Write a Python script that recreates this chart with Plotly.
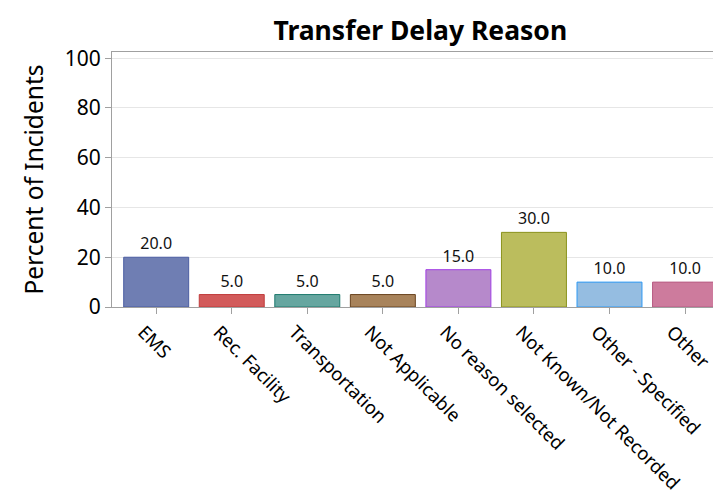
import plotly.graph_objects as go

categories = ["EMS", "Rec. Facility", "Transportation", "Not Applicable",
              "No reason selected", "Not Known/Not Recorded", "Other - Specified", "Other"]
percents = [20.0, 5.0, 5.0, 5.0, 15.0, 30.0, 10.0, 10.0]
fill_colors = ["#6F7EB3", "#D25B5B", "#66A6A0", "#A8835B", "#B689CB", "#BBBD5D", "#95BDE1", "#CD7B9D"]
line_colors = ["#4B5DA2", "#C03C3C", "#1E7A6E", "#6A4520", "#A13DE4", "#8A931D", "#2F9AF4", "#B75C84"]
y_ticks = [0, 20, 40, 60, 80, 100]

FONT = "Noto Sans"

fig = go.Figure(go.Bar(
    x=categories,
    y=percents,
    marker=dict(color=fill_colors, line=dict(color=line_colors, width=1)),
    text=[f"{v:.1f}" for v in percents],
    textposition="outside",
    textfont=dict(family=FONT, size=16, color="#111111"),
    cliponaxis=False,
))

fig.update_layout(
    width=713, height=497,
    margin=dict(l=112, r=0, t=52, b=190, pad=0),
    paper_bgcolor="white", plot_bgcolor="white",
    bargap=0.14,
    showlegend=False,
    title=dict(text="<b>Transfer Delay Reason</b>", x=0.513, xanchor="center",
               xref="paper", y=0.938, yref="container", yanchor="middle",
               font=dict(family=FONT, size=26.5, color="black")),
    font=dict(family=FONT, color="black"),
)

fig.update_xaxes(
    type="category",
    range=[-0.585, 7.37],
    automargin=False,
    showline=True, linecolor="#A0A0A0", linewidth=1, mirror=True,
    ticks="outside", ticklen=6, tickcolor="#A0A0A0",
    tickangle=45,
    ticklabelshift=-13,
    tickfont=dict(family=FONT, size=18.5, color="black"),
    showgrid=False,
)

fig.update_yaxes(
    range=[0, 102.5],
    tickvals=y_ticks,
    automargin=False,
    showline=True, linecolor="#A0A0A0", linewidth=1,
    ticks="outside", ticklen=6, tickcolor="#A0A0A0",
    tickfont=dict(family=FONT, size=21, color="black"),
    showgrid=True, gridcolor="#E6E6E6", gridwidth=1,
    zeroline=False,
    title=dict(text="Percent of Incidents", font=dict(family=FONT, size=24.5, color="black"), standoff=14),
)

fig.write_html(
    "out.html",
    config={"displayModeBar": False},
    post_script=(
        "document.documentElement.style.margin='0';"
        "document.documentElement.style.overflow='hidden';"
        "document.body.style.margin='0';"
        "document.body.style.overflow='hidden';"
    ),
)
